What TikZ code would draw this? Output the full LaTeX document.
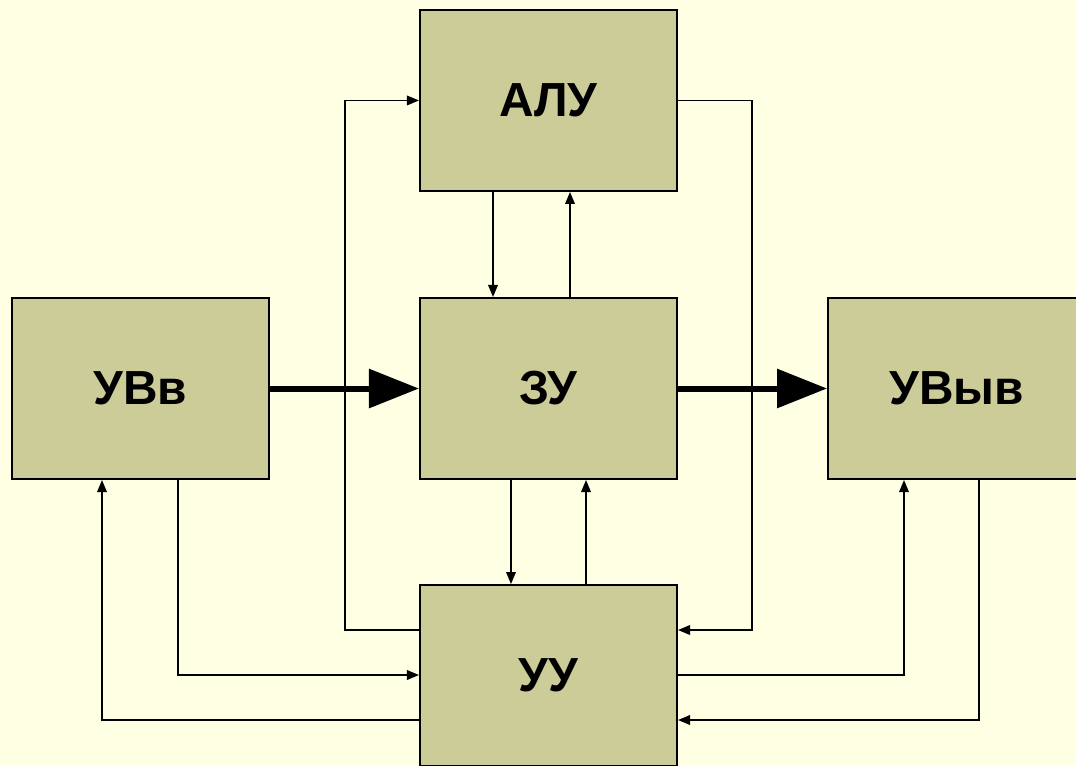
\documentclass[tikz,border=0pt]{standalone}
\usepackage{fontspec}
\setmainfont{Liberation Sans}
\usepackage{tikz}
\usetikzlibrary{arrows.meta,calc,positioning}
\definecolor{bgpale}{HTML}{FFFFE3}
\definecolor{olivebox}{HTML}{CCCC99}

\tikzset{
  block/.style={draw=black,line width=1.4pt,fill=olivebox,minimum width=6.425cm,minimum height=4.525cm,inner sep=0pt,font=\fontsize{34}{40}\selectfont\bfseries},
  link/.style={line width=1.1pt,-{Triangle[length=0.3cm,width=0.24cm]}},
  bigarrow/.style={line width=0.15cm,-{Triangle[length=1.25cm,width=0.95cm]}}
}

\begin{document}
\begin{tikzpicture}[x=0.025cm,y=-0.025cm]
  \fill[bgpale] (0,0) rectangle (1076,765);
  \clip (0,0) rectangle (1076,765);
  \useasboundingbox (0,0) rectangle (1076,765);

  \node[block] (zu) at (548.5,388.5) {ЗУ};
  \node[block,above=2.625cm of zu] (alu) {АЛУ};
  \node[block,left=3.725cm of zu] (uvv) {УВв};
  \node[block,right=3.725cm of zu] (uvyv) {УВыв};
  \node[block,below=2.6cm of zu] (uu) {УУ};

  % vertical positions of the connectors
  \coordinate (x1) at (102,0);
  \coordinate (x2) at (178,0);
  \coordinate (x3) at (345,0);
  \coordinate (x4) at (493,0);
  \coordinate (x5) at (570,0);
  \coordinate (x6) at (511,0);
  \coordinate (x7) at (586,0);
  \coordinate (x8) at (752,0);
  \coordinate (x9) at (904,0);
  \coordinate (x10) at (979,0);
  \coordinate (y1) at (0,630);
  \coordinate (y2) at (0,675);
  \coordinate (y3) at (0,720);

  \draw[bigarrow] (uvv) -- (zu);
  \draw[bigarrow] (zu) -- (uvyv);

  \draw[link] (alu.south -| x4) -- (zu.north -| x4);
  \draw[link] (zu.north -| x5) -- (alu.south -| x5);
  \draw[link] (zu.south -| x6) -- (uu.north -| x6);
  \draw[link] (uu.north -| x7) -- (zu.south -| x7);

  \draw[link] (uu.west |- y1) -| (x3 |- alu.west) -- (alu.west);
  \draw[link] (alu.east) -| (x8 |- y1) -- (uu.east |- y1);

  \draw[link] (uvv.south -| x2) |- (uu.west |- y2);
  \draw[link] (uu.west |- y3) -| (uvv.south -| x1);
  \draw[link] (uu.east |- y2) -| (uvyv.south -| x9);
  \draw[link] (uvyv.south -| x10) |- (uu.east |- y3);
\end{tikzpicture}
\end{document}
